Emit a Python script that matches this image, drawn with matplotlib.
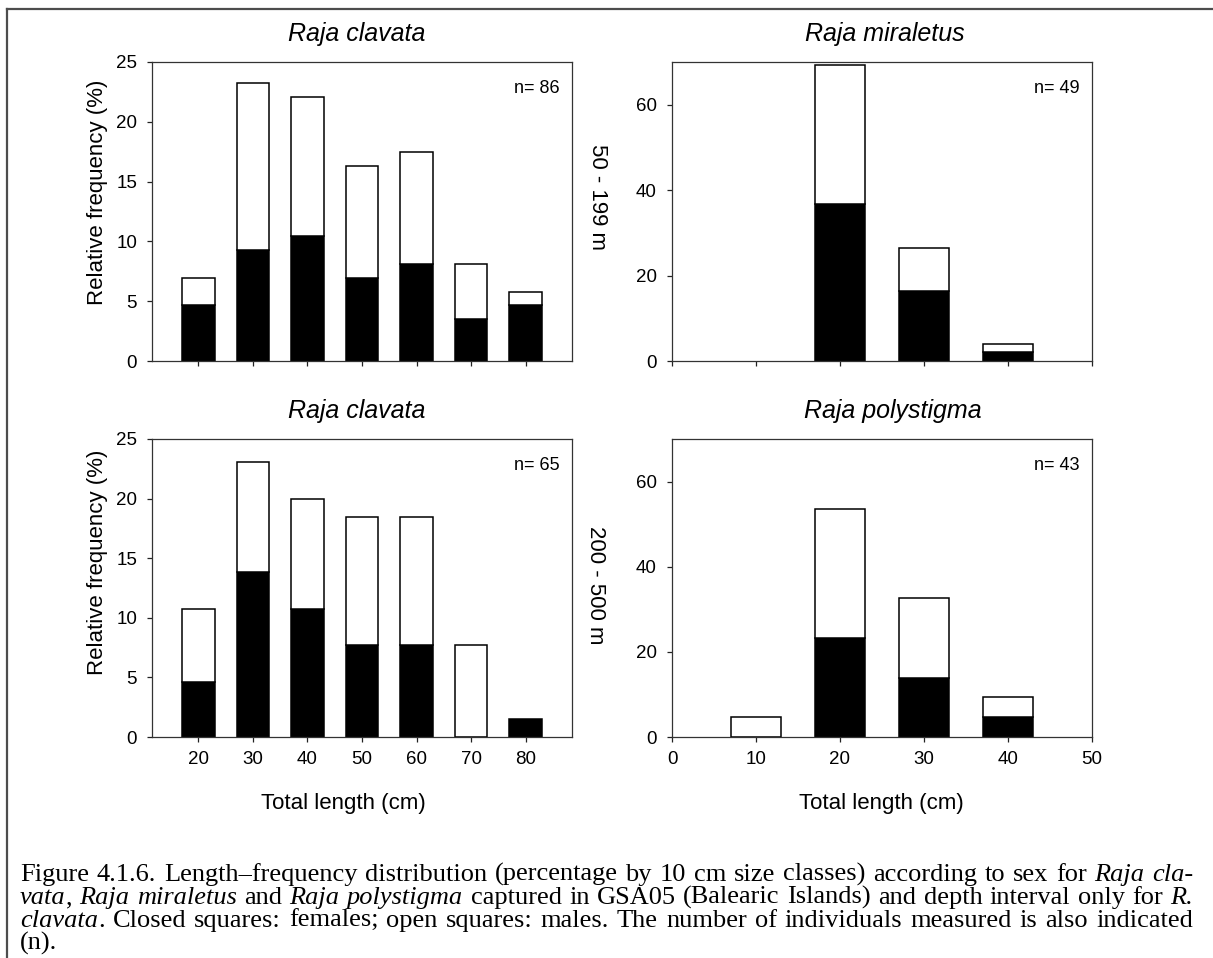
import numpy as np
import matplotlib
matplotlib.use('Agg')
import matplotlib.pyplot as plt
from matplotlib.lines import Line2D

W, H = 1213, 958

# Length classes (cm) and relative frequency (%) by sex
clavata_classes = [20, 30, 40, 50, 60, 70, 80]
# Raja clavata, 50 - 199 m (n=86)
shallow_fem = [4.65, 9.30, 10.47, 6.98, 8.14, 3.49, 4.65]
shallow_male = [2.33, 13.95, 11.63, 9.30, 9.30, 4.65, 1.16]
# Raja clavata, 200 - 500 m (n=65)
deep_fem = [4.62, 13.85, 10.77, 7.69, 7.69, 0.0, 1.54]
deep_male = [6.15, 9.23, 9.23, 10.77, 10.77, 7.69, 0.0]
# Raja miraletus (n=49)
miraletus_classes = [20, 30, 40]
miraletus_fem = [36.73, 16.33, 2.04]
miraletus_male = [32.65, 10.20, 2.04]
# Raja polystigma (n=43)
polystigma_classes = [10, 20, 30, 40]
polystigma_fem = [0.0, 23.26, 13.95, 4.65]
polystigma_male = [4.65, 30.23, 18.60, 4.65]

plt.rcParams['font.family'] = ['Liberation Sans', 'DejaVu Sans']

fig = plt.figure(figsize=(W / 100, H / 100), dpi=100)


def px_axes(x0, y0, x1, y1):
    # axes rectangle given in pixels from the top-left corner
    return fig.add_axes([x0 / W, 1 - y1 / H, (x1 - x0) / W, (y1 - y0) / H])


def draw_panel(ax, x, fem, male, n, xlim, ylim, yticks, xticks, show_xlabels):
    x = np.array(x, dtype=float)
    fem = np.array(fem)
    male = np.array(male)
    f = fem > 0
    m = male > 0
    ax.bar(x[f], fem[f], width=6, color='black', edgecolor='black', linewidth=1.1, zorder=2)
    ax.bar(x[m], male[m], width=6, bottom=fem[m], color='white', edgecolor='black',
           linewidth=1.1, zorder=2)
    ax.set_xlim(*xlim)
    ax.set_ylim(*ylim)
    ax.set_yticks(yticks)
    ax.set_xticks(xticks)
    ax.tick_params(direction='out', length=3.8, width=0.9, labelsize=13.5, pad=6,
                   color='#222222')
    ax.tick_params(axis='y', pad=7)
    if not show_xlabels:
        ax.tick_params(axis='x', labelbottom=False)
    for s in ax.spines.values():
        s.set_color('#333333')
        s.set_linewidth(0.9)
    ax.text(0.97, 0.895, 'n= %d' % n, transform=ax.transAxes, ha='right', va='baseline',
            fontsize=13)


ax1 = px_axes(152, 62, 572, 361)
draw_panel(ax1, clavata_classes, shallow_fem, shallow_male, 86, (11.5, 88.5), (0, 25),
           [0, 5, 10, 15, 20, 25], clavata_classes, False)
ax2 = px_axes(672, 62, 1092, 361)
draw_panel(ax2, miraletus_classes, miraletus_fem, miraletus_male, 49, (0, 50), (0, 70),
           [0, 20, 40, 60], [0, 10, 20, 30, 40, 50], False)
ax3 = px_axes(152, 439, 572, 737)
draw_panel(ax3, clavata_classes, deep_fem, deep_male, 65, (11.5, 88.5), (0, 25),
           [0, 5, 10, 15, 20, 25], clavata_classes, True)
ax4 = px_axes(672, 439, 1092, 737)
draw_panel(ax4, polystigma_classes, polystigma_fem, polystigma_male, 43, (0, 50), (0, 70),
           [0, 20, 40, 60], [0, 10, 20, 30, 40, 50], True)


def ftext(x, y, s, **kw):
    return fig.text(x / W, 1 - y / H, s, **kw)


# panel titles
ftext(357, 41, 'Raja clavata', ha='center', va='baseline', fontsize=18, style='italic')
ftext(885, 41, 'Raja miraletus', ha='center', va='baseline', fontsize=18, style='italic')
ftext(357, 418, 'Raja clavata', ha='center', va='baseline', fontsize=18, style='italic')
ftext(893, 418, 'Raja polystigma', ha='center', va='baseline', fontsize=18, style='italic')

# axis labels
ftext(98, 192, 'Relative frequency (%)', ha='center', va='center', rotation=90, fontsize=16)
ftext(98, 562, 'Relative frequency (%)', ha='center', va='center', rotation=90, fontsize=16)
ftext(343, 803, 'Total length (cm)', ha='center', va='center', fontsize=16)
ftext(881, 803, 'Total length (cm)', ha='center', va='center', fontsize=16)

# depth strata
ftext(597, 197, '50 - 199 m', ha='center', va='center', rotation=270, fontsize=16)
ftext(595, 585, '200 - 500 m', ha='center', va='center', rotation=270, fontsize=16)

# frame around the figure
fig.add_artist(Line2D([7 / W, 7 / W], [0, 1 - 9 / H], color='#4d4d4d', linewidth=1.6))
fig.add_artist(Line2D([7 / W, 1], [1 - 9 / H, 1 - 9 / H], color='#4d4d4d', linewidth=1.6))

# caption, justified word by word
cap_size = 19
cap_lines = [
    [('Figure 4.1.6. Length\u2013frequency distribution (percentage by 10 cm size classes) '
      'according to sex for ', False), ('Raja cla-', True)],
    [('vata', True), (', ', False), ('Raja miraletus', True), (' and ', False),
     ('Raja polystigma', True),
     (' captured in GSA05 (Balearic Islands) and depth interval only for ', False),
     ('R.', True)],
    [('clavata', True), ('. Closed squares: females; open squares: males. The number of '
                         'individuals measured is also indicated', False)],
    [('(n).', False)],
]
cap_base = [881, 904, 927, 950]
cap_x0, cap_x1 = 20, 1193

renderer = fig.canvas.get_renderer()


def caption_line(runs, y, justify):
    words = []
    cur = []
    for text, ital in runs:
        pieces = text.split(' ')
        for i, p in enumerate(pieces):
            if i > 0 and cur:
                words.append(cur)
                cur = []
            if p:
                cur.append((p, ital))
    if cur:
        words.append(cur)
    items = []
    for w in words:
        parts = []
        for t, ital in w:
            txt = ftext(0, y, t, ha='left', va='baseline', fontsize=cap_size,
                        family=['Liberation Serif', 'DejaVu Serif'],
                        style='italic' if ital else 'normal')
            parts.append((txt, txt.get_window_extent(renderer).width))
        items.append(parts)
    total = sum(wd for parts in items for _, wd in parts)
    if justify and len(items) > 1:
        gap = (cap_x1 - cap_x0 - total) / (len(items) - 1)
    else:
        gap = 0.25 * cap_size * 100 / 72
    x = cap_x0
    for parts in items:
        for txt, wd in parts:
            txt.set_x(x / W)
            x += wd
        x += gap


for i, (runs, yb) in enumerate(zip(cap_lines, cap_base)):
    caption_line(runs, yb, i < len(cap_lines) - 1)

fig.savefig('out.png', dpi=100)
